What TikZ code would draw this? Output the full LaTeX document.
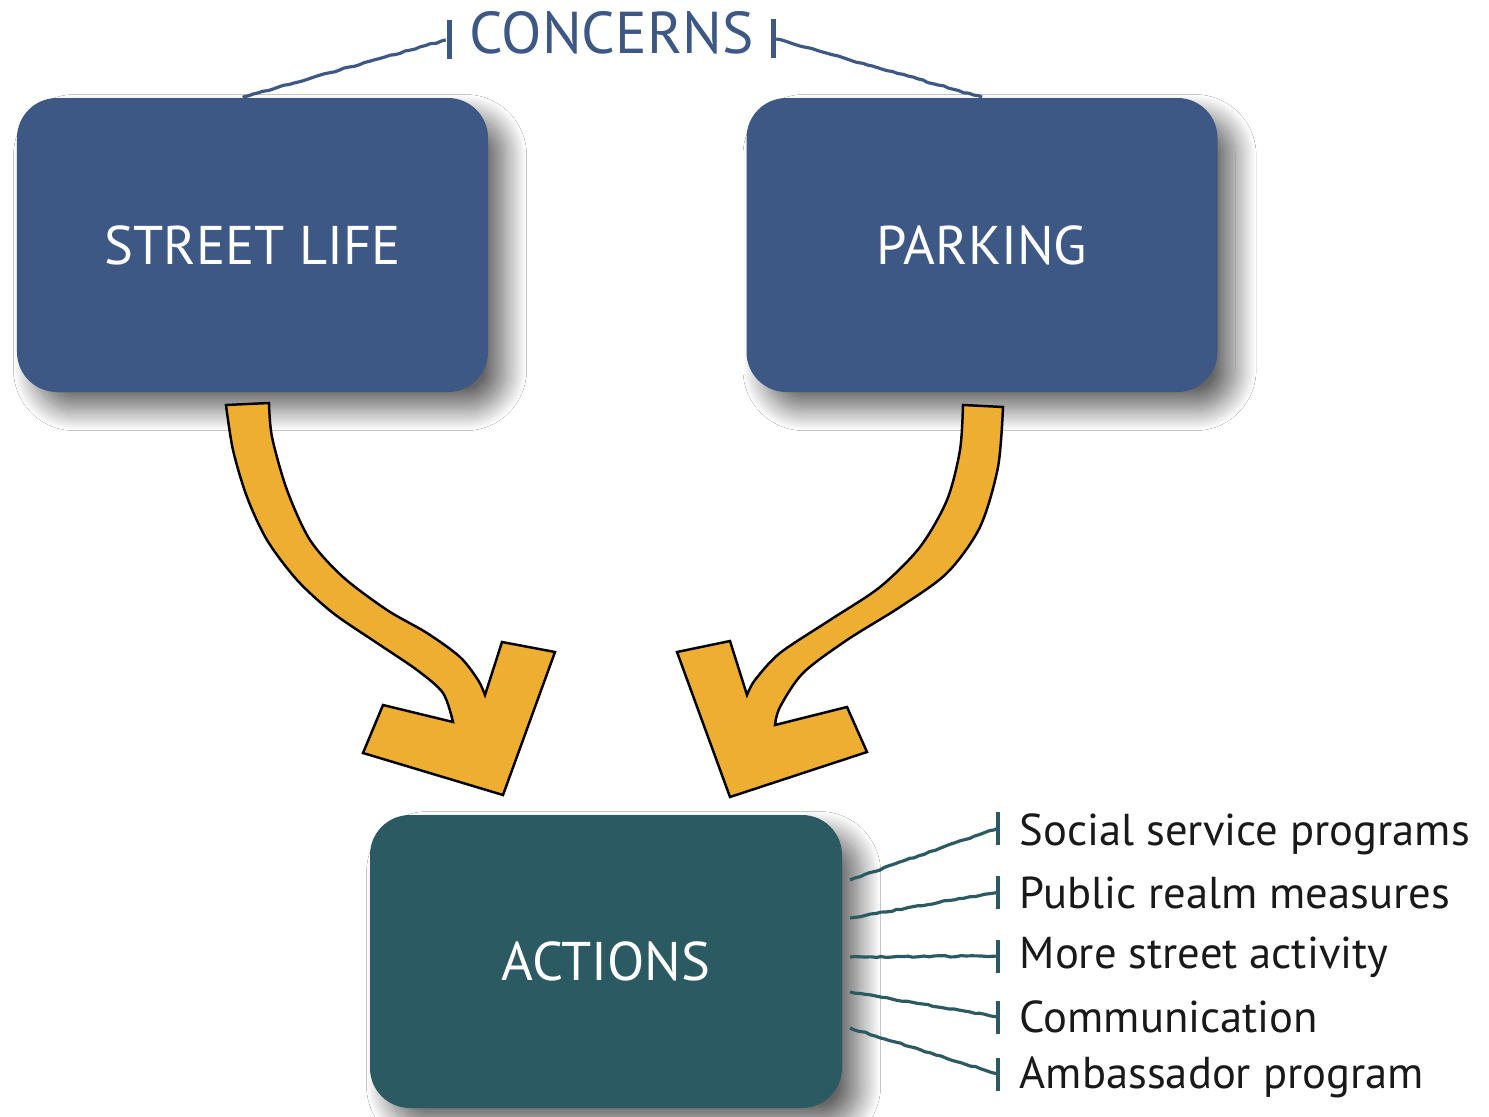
\documentclass[tikz,border=0pt]{standalone}
\usepackage{fontspec}
\setmainfont{PT Sans}
\usetikzlibrary{shadows.blur,decorations.pathmorphing}
\definecolor{boxblue}{RGB}{62,88,134}
\definecolor{boxteal}{RGB}{44,90,98}
\definecolor{arrowgold}{RGB}{238,174,50}
\tikzset{% This is the style settings for boxes, bars and links
    b/.style={rounded corners=0.4cm, minimum width=4.71cm, minimum height=2.94cm,
      text=white, font=\fontsize{15.5}{19}\selectfont,
      blur shadow={shadow xshift=5pt, shadow yshift=-5pt, shadow blur radius=6pt,
        shadow blur steps=30, shadow opacity=60}},
    tbar/.style={fill=boxblue, inner sep=0pt, minimum width=0.05cm, minimum height=0.39cm},
    lbar/.style={fill=boxteal, inner sep=0pt, minimum width=0.045cm, minimum height=0.33cm},
    item/.style={anchor=base west, inner sep=0pt, text=black!90, font=\fontsize{12.7}{15}\selectfont},
    lk/.style={line width=0.9pt, decorate, decoration={random steps, segment length=1.5pt, amplitude=0.2pt}},
    arr/.style={fill=arrowgold, draw=black, line width=0.7pt}}

\begin{document}
\begin{tikzpicture}
  \path[use as bounding box, fill=white] (0,0) rectangle (14.89,-11.17);

  \node[b, fill=boxblue] (street) at (2.525,-2.45) {STREET LIFE};
  \node[b, fill=boxblue] (park) at (9.82,-2.45) {PARKING};
  \node[b, fill=boxteal, minimum width=4.72cm, minimum height=2.93cm] (act) at (6.06,-9.615) {ACTIONS};

  \node[text=boxblue, font=\fontsize{16.8}{20}\selectfont, inner sep=0pt] (conc) at (6.115,-0.33) {CONCERNS};
  \node[tbar] (cl) at (4.49,-0.39) {};
  \node[tbar] (cr) at (7.73,-0.38) {};
  \draw[lk, boxblue] (cl) -- ([xshift=-0.1cm]street.north);
  \draw[lk, boxblue] (cr) -- (park.north);

  \draw[arr] plot[smooth] coordinates {(2.26,-4.05) (2.33,-4.50) (2.47,-4.97) (2.67,-5.40) (2.97,-5.80) (3.33,-6.13) (3.77,-6.43) (4.17,-6.70) (4.43,-6.93) (4.53,-7.22)}
    -- (3.83,-7.05) -- (3.63,-7.53) -- (5.03,-7.95) -- (5.55,-6.52) -- (5.02,-6.42) -- (4.85,-6.95)
    -- plot[smooth] coordinates {(4.85,-6.95) (4.78,-6.80) (4.60,-6.57) (4.27,-6.33) (3.87,-6.10) (3.43,-5.77) (3.10,-5.40) (2.87,-4.90) (2.72,-4.37) (2.69,-4.03)} -- cycle;
  \draw[arr] plot[smooth] coordinates {(10.03,-4.07) (9.98,-4.67) (9.80,-5.27) (9.47,-5.73) (9.00,-6.07) (8.47,-6.40) (8.03,-6.73) (7.80,-7.07) (7.75,-7.25)}
    -- (8.47,-7.07) -- (8.67,-7.52) -- (7.30,-7.97) -- (6.77,-6.52) -- (7.30,-6.41) -- (7.47,-6.95)
    -- plot[smooth] coordinates {(7.47,-6.95) (7.55,-6.80) (7.80,-6.53) (8.30,-6.20) (8.80,-5.87) (9.20,-5.47) (9.47,-5.00) (9.60,-4.50) (9.63,-4.05)} -- cycle;

  \node[lbar] (b1) at (9.98,-8.28) {};
  \node[lbar] (b2) at (9.98,-8.92) {};
  \node[lbar] (b3) at (9.98,-9.56) {};
  \node[lbar] (b4) at (9.98,-10.17) {};
  \node[lbar] (b5) at (9.98,-10.74) {};
  \node[item] (i1) at (10.19,-8.45) {Social service programs};
  \node[item] (i2) at (10.19,-9.08) {Public realm measures};
  \node[item] (i3) at (10.19,-9.68) {More street activity};
  \node[item] (i4) at (10.19,-10.32) {Communication};
  \node[item] (i5) at (10.19,-10.88) {Ambassador program};

  \coordinate (s1) at (8.50,-8.80);
  \coordinate (s2) at (8.50,-9.18);
  \coordinate (s3) at (8.50,-9.57);
  \coordinate (s4) at (8.50,-9.92);
  \coordinate (s5) at (8.50,-10.28);
  \draw[lk, boxteal] (s1) -- (b1.center);
  \draw[lk, boxteal] (s2) -- (b2.center);
  \draw[lk, boxteal] (s3) -- (b3.center);
  \draw[lk, boxteal] (s4) -- (b4.center);
  \draw[lk, boxteal] (s5) -- (b5.center);
\end{tikzpicture}
\end{document}
